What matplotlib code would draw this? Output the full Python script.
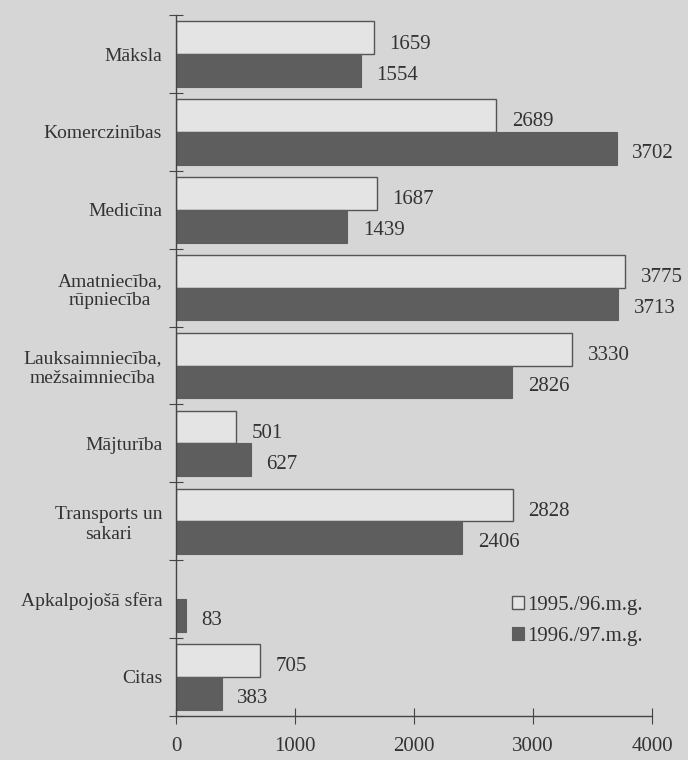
import numpy as np
import matplotlib.pyplot as plt

kategorijas = ['Māksla', 'Komerczinības', 'Medicīna', 'Amatniecība,\nrūpniecība',
               'Lauksaimniecība,\nmežsaimniecība', 'Mājturība', 'Transports un\nsakari',
               'Apkalpojošā sfēra', 'Citas']
g1995 = [1659, 2689, 1687, 3775, 3330, 501, 2828, np.nan, 705]
g1996 = [1554, 3702, 1439, 3713, 2826, 627, 2406, 83, 383]

plt.rcParams['font.family'] = ['Liberation Serif', 'DejaVu Serif']
fons = '#d6d6d6'

fig = plt.figure(figsize=(6.88, 7.6), dpi=100, facecolor=fons)
ax = fig.add_axes([0.256, 0.058, 0.692, 0.922], facecolor=fons)

y = np.arange(len(kategorijas))
h = 0.42
b1 = ax.barh(y - h / 2, g1995, height=h, color='#e4e4e4', edgecolor='#555555', linewidth=1.0,
             label='1995./96.m.g.')
b2 = ax.barh(y + h / 2, g1996, height=h, color='#5e5e5e', edgecolor='#5e5e5e', linewidth=0.8,
             label='1996./97.m.g.')

for yy, v in zip(y, g1995):
    if not np.isnan(v):
        ax.text(v + 130, yy - h / 2 + 0.08, str(v), va='center', ha='left', fontsize=15, color='#333333')
for yy, v in zip(y, g1996):
    ax.text(v + 130, yy + h / 2 + 0.06, str(v), va='center', ha='left', fontsize=15, color='#333333')

ax.set_ylim(len(kategorijas) - 0.5, -0.5)
ax.set_xlim(0, 4000)
ax.set_xticks([0, 1000, 2000, 3000, 4000])
ax.set_yticks(np.arange(-0.5, len(kategorijas), 1.0))
ax.set_yticklabels([])
ax.set_yticks(y, minor=True)
ax.set_yticklabels(kategorijas, minor=True, fontsize=14, color='#333333', multialignment='center')
ax.tick_params(axis='y', which='minor', length=0, pad=10)
ax.tick_params(axis='y', which='major', direction='inout', length=10, color='#444444')
ax.tick_params(axis='x', direction='inout', length=12, color='#444444', labelsize=15,
               labelcolor='#333333', pad=9)

for s in ['top', 'right']:
    ax.spines[s].set_visible(False)
for s in ['left', 'bottom']:
    ax.spines[s].set_color('#444444')
    ax.spines[s].set_linewidth(1.0)

leg = ax.legend(loc='lower right', bbox_to_anchor=(1.02, 0.073), frameon=False, fontsize=15,
                handlelength=0.6, handleheight=0.6, handletextpad=0.15, labelspacing=0.6)
for t in leg.get_texts():
    t.set_color('#333333')

fig.savefig('out.png', dpi=100, facecolor=fons)
